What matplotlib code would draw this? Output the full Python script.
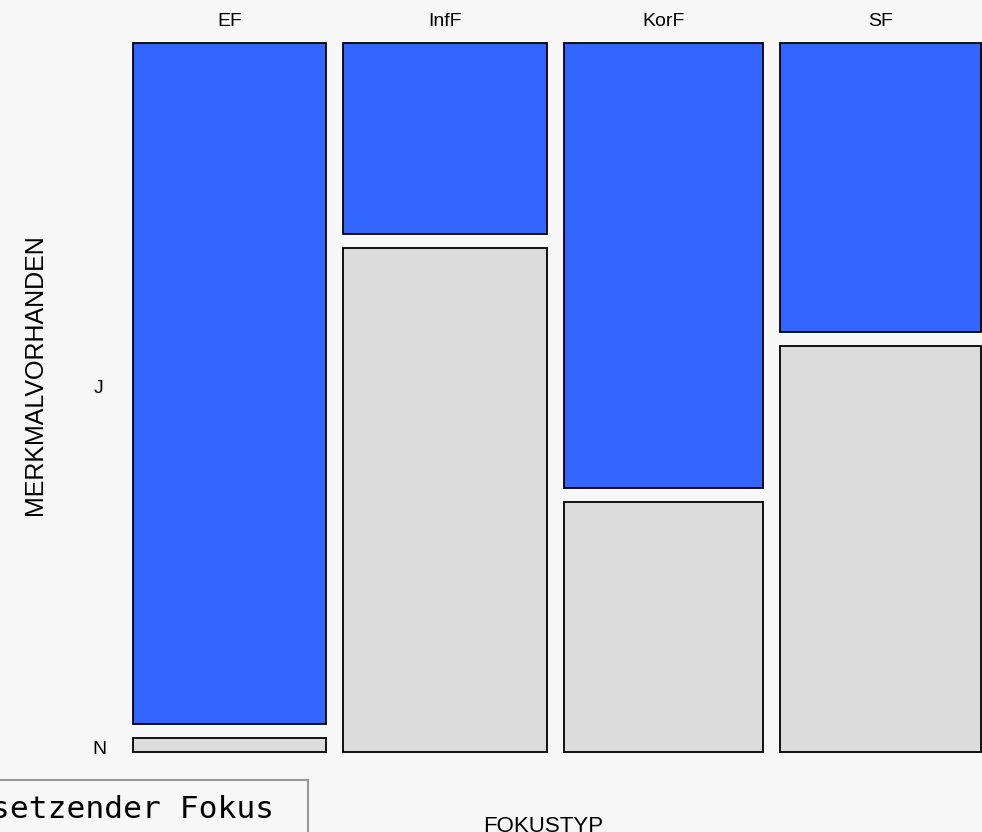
import matplotlib
matplotlib.use("Agg")
import matplotlib.pyplot as plt
from matplotlib.patches import Rectangle

# counts per FOKUSTYP (columns) and MERKMALVORHANDEN level (J / N)
fokustyp = ["EF", "InfF", "KorF", "SF"]
merkmal = ["J", "N"]
count_j = [95, 28, 64, 42]
count_n = [2, 74, 36, 59]

colors = {"J": "#3366ff", "N": "#dcdcdc"}
bg = "#f7f7f7"

plt.rcParams["font.family"] = ["Liberation Sans", "DejaVu Sans"]

W, H = 982, 832
fig = plt.figure(figsize=(W / 100, H / 100), dpi=100, facecolor=bg)

# mosaic area in pixels
left, right, top, bottom = 133, 981, 43, 752
ax = fig.add_axes([left / W, 1 - bottom / H, (right - left) / W, (bottom - top) / H])
ax.set_xlim(0, 1)
ax.set_ylim(0, 1)
ax.axis("off")
ax.patch.set_alpha(0)

xgap = 17 / (right - left)
ygap = 14 / (bottom - top)

totals = [j + n for j, n in zip(count_j, count_n)]
grand = sum(totals)
usable_w = 1 - xgap * (len(fokustyp) - 1)
usable_h = 1 - ygap

x = 0
j_centers = []
for i, name in enumerate(fokustyp):
    w = usable_w * totals[i] / grand
    hn = usable_h * count_n[i] / totals[i]
    hj = usable_h * count_j[i] / totals[i]
    # N at bottom, J on top
    ax.add_patch(Rectangle((x, 0), w, hn, facecolor=colors["N"],
                           edgecolor="black", lw=1.3, clip_on=False))
    ax.add_patch(Rectangle((x, hn + ygap), w, hj, facecolor=colors["J"],
                           edgecolor="black", lw=1.3, clip_on=False))
    ax.text(x + w / 2, 1 + 22 / (bottom - top), name, ha="center", va="center",
            fontsize=14, transform=ax.transAxes)
    if i == 0:
        j_centers = [hn + ygap + hj / 2, hn / 2]
    x += w + xgap

# row labels, aligned with the first column
for lab, yc in zip(merkmal, j_centers):
    ax.text(-34 / (right - left), yc - 5 / (bottom - top), lab,
            ha="center", va="center", fontsize=14)

fig.text(35 / W, 1 - 375 / H, "MERKMALVORHANDEN", rotation=90,
         ha="center", va="center", fontsize=18)
fig.text(543 / W, 1 - 826 / H, "FOKUSTYP", ha="center", va="center", fontsize=16)

# cut-off legend box at lower left
fig.patches.append(Rectangle((-20 / W, -20 / H), 328 / W, (832 - 780 + 20) / H,
                             transform=fig.transFigure, facecolor=bg,
                             edgecolor="#999999", lw=1.5))
fig.text(274 / W, 1 - 810 / H, "setzender Fokus", ha="right", va="center",
         fontsize=22.5, family="DejaVu Sans Mono")

fig.savefig("out.png", dpi=100, facecolor=bg)
